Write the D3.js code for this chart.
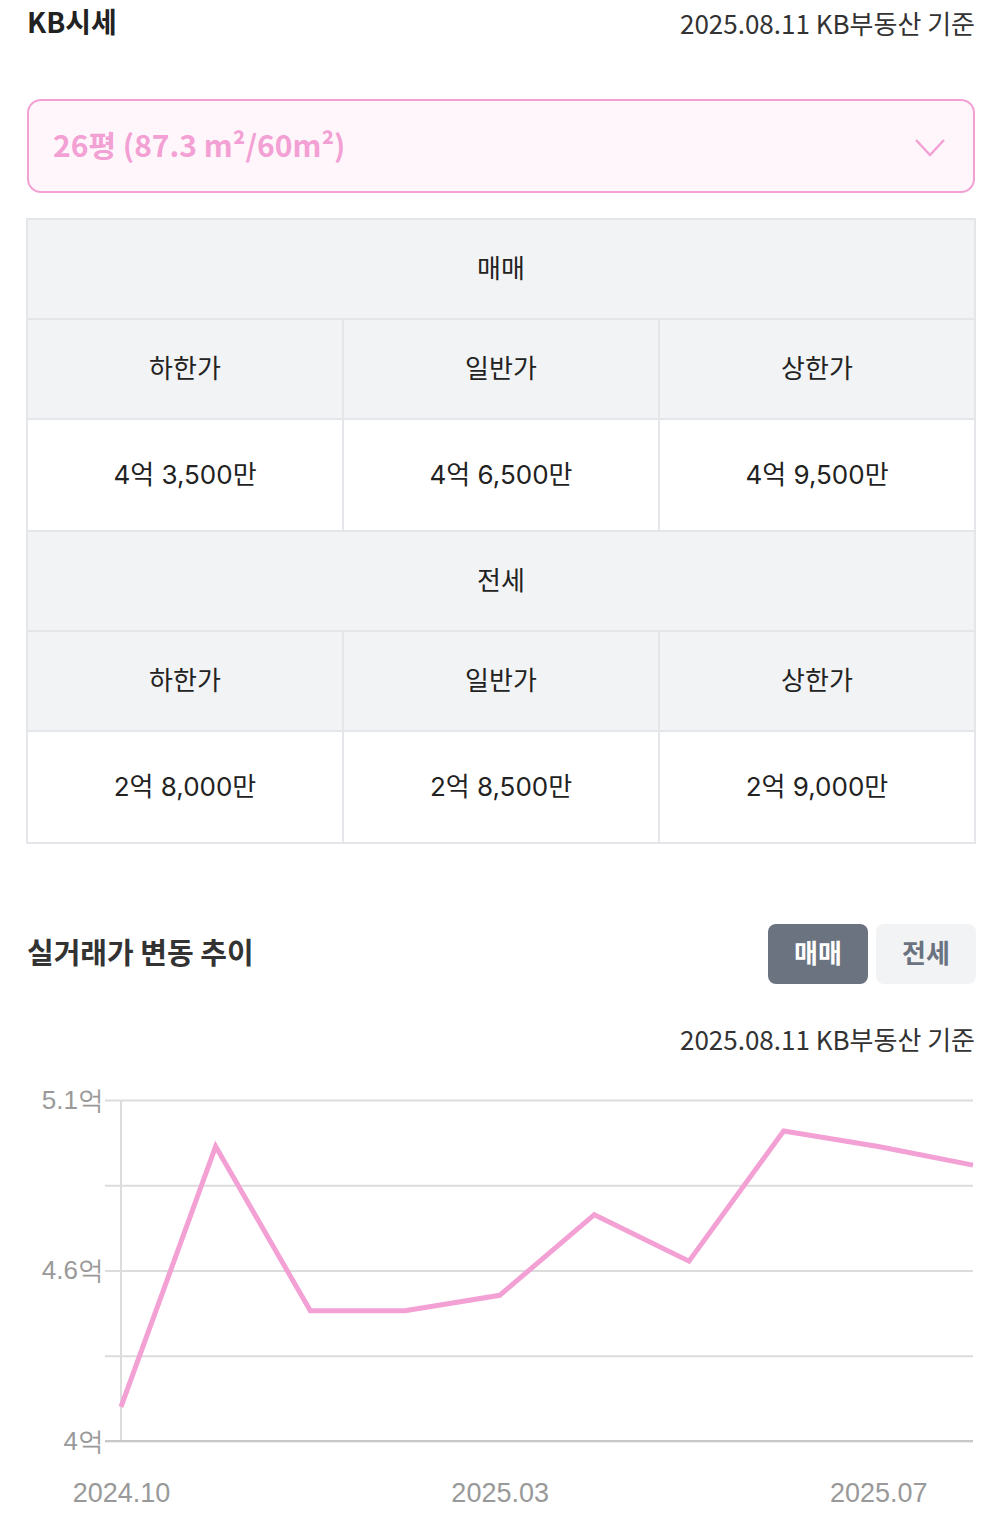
<!DOCTYPE html>
<html>
<head>
<meta charset="utf-8">
<script src="https://cdn.jsdelivr.net/npm/d3@7"></script>
<style>
  body { margin: 0; background: #fff; }
  svg { display: block; font-family: "Noto Sans CJK KR", "Noto Sans", sans-serif; }
</style>
</head>
<body>
<div class="container"></div>
<script>
const baseDate = '2025.08.11 KB부동산 기준';
const areaLabel = '26평 (87.3 m²/60m²)';
const priceCols = ['하한가', '일반가', '상한가'];
const saleValues = ['4억 3,500만', '4억 6,500만', '4억 9,500만'];
const rentValues = ['2억 8,000만', '2억 8,500만', '2억 9,000만'];
const months = ['2024.10', '2024.11', '2024.12', '2025.01', '2025.03', '2025.04', '2025.05', '2025.06', '2025.07', '2025.08'];
const prices = [4.11, 4.95, 4.42, 4.42, 4.47, 4.73, 4.58, 5.0, 4.95, 4.89];
const yTicks = [4, 4.275, 4.55, 4.825, 5.1];
const yTickLabels = ['4억', '', '4.6억', '', '5.1억'];
const xTickIdx = [0, 4, 8];

const w = 1000;
const h = 1520;
const pink = '#f3a0d4';

const svg = d3.select('.container').append('svg')
    .attr('width', w)
    .attr('height', h);

// header
svg.append('text')
    .attr('x', 27).attr('y', 33)
    .style('font-size', '28px').style('font-weight', 700)
    .attr('fill', '#222')
    .text('KB시세');

svg.append('text')
    .attr('x', 975).attr('y', 34)
    .attr('text-anchor', 'end')
    .style('font-size', '26px')
    .attr('fill', '#333')
    .text(baseDate);

// dropdown
svg.append('rect')
    .attr('x', 28).attr('y', 100)
    .attr('width', 946).attr('height', 92)
    .attr('rx', 13)
    .attr('fill', '#fff6fb')
    .attr('stroke', pink).attr('stroke-width', 2);

svg.append('text')
    .attr('x', 53).attr('y', 157)
    .style('font-size', '30px').style('font-weight', 700)
    .attr('fill', pink)
    .text(areaLabel);

svg.append('path')
    .attr('d', 'M916,140 L930,155 L944,140')
    .attr('fill', 'none')
    .attr('stroke', pink).attr('stroke-width', 2.5);

// price table
const table = svg.append('g');
const colX = d3.scaleBand().domain(d3.range(3)).range([27, 975]);
const sections = [
  {title: '매매', values: saleValues, top: 219},
  {title: '전세', values: rentValues, top: 531}
];

sections.forEach(s => {
  const rows = [
    {y: s.top, hgt: 100, bg: '#f2f3f5', cells: [s.title], full: true},
    {y: s.top + 100, hgt: 100, bg: '#f2f3f5', cells: priceCols},
    {y: s.top + 200, hgt: 112, bg: '#fff', cells: s.values, num: true}
  ];
  rows.forEach(r => {
    const cells = r.full ? [{x: 27, wd: 948, t: r.cells[0]}]
      : r.cells.map((t, i) => ({x: colX(i), wd: colX.bandwidth(), t: t}));
    const g = table.selectAll(null).data(cells).enter().append('g');
    g.append('rect')
        .attr('x', d => d.x).attr('y', r.y)
        .attr('width', d => d.wd).attr('height', r.hgt)
        .attr('fill', r.bg)
        .attr('stroke', '#e5e6ea').attr('stroke-width', 2);
    g.append('text')
        .attr('x', d => d.x + d.wd / 2)
        .attr('y', r.y + r.hgt / 2)
        .attr('dy', '0.35em')
        .attr('text-anchor', 'middle')
        .style('font-size', '26px')
        .style('font-family', r.num ? 'Inter, "Noto Sans CJK KR", sans-serif' : null)
        .attr('fill', '#222')
        .text(d => d.t);
  });
});

// section title + toggle
svg.append('text')
    .attr('x', 27).attr('y', 964)
    .style('font-size', '29px').style('font-weight', 700)
    .attr('fill', '#333')
    .text('실거래가 변동 추이');

const toggles = [
  {t: '매매', x: 768, bg: '#6b7280', fg: '#fff'},
  {t: '전세', x: 876, bg: '#f2f3f5', fg: '#6b7280'}
];
const tg = svg.selectAll('.toggle').data(toggles).enter().append('g').attr('class', 'toggle');
tg.append('rect')
    .attr('x', d => d.x).attr('y', 924)
    .attr('width', 100).attr('height', 60)
    .attr('rx', 8)
    .attr('fill', d => d.bg);
tg.append('text')
    .attr('x', d => d.x + 50).attr('y', 954)
    .attr('dy', '0.35em')
    .attr('text-anchor', 'middle')
    .style('font-size', '26px').style('font-weight', 700)
    .attr('fill', d => d.fg)
    .text(d => d.t);

svg.append('text')
    .attr('x', 975).attr('y', 1050)
    .attr('text-anchor', 'end')
    .style('font-size', '26px')
    .attr('fill', '#333')
    .text(baseDate);

// line chart
const plot = {left: 121, right: 973, top: 1100, bottom: 1441};
const x = d3.scalePoint().domain(months).range([plot.left, plot.right]);
const y = d3.scaleLinear().domain([4, 5.1]).range([plot.bottom, plot.top]);

const chart = svg.append('g')
    .style('font-family', '"Liberation Sans", "Noto Sans CJK KR", sans-serif');

const yAxis = d3.axisLeft(y)
    .tickValues(yTicks)
    .tickSize(-(plot.right - 105))
    .tickPadding(1)
    .tickFormat((d, i) => yTickLabels[i]);

chart.append('g')
    .attr('transform', 'translate(105,0)')
    .call(yAxis)
    .call(g => g.select('.domain').remove())
    .call(g => g.selectAll('.tick line').attr('stroke', '#dcdcdc').attr('stroke-width', 2))
    .call(g => g.selectAll('.tick text')
        .attr('fill', '#999').style('font-size', '26px'));

chart.append('line')
    .attr('x1', plot.left).attr('x2', plot.left)
    .attr('y1', plot.top).attr('y2', plot.bottom)
    .attr('stroke', '#dcdcdc').attr('stroke-width', 2);

chart.append('line')
    .attr('x1', 105).attr('x2', plot.right)
    .attr('y1', plot.bottom).attr('y2', plot.bottom)
    .attr('stroke', '#c8c8c8').attr('stroke-width', 2);

const xAxis = d3.axisBottom(x)
    .tickValues(xTickIdx.map(i => months[i]))
    .tickSize(0)
    .tickPadding(0);

chart.append('g')
    .attr('transform', `translate(0,${plot.bottom})`)
    .call(xAxis)
    .call(g => g.select('.domain').remove())
    .call(g => g.selectAll('.tick text')
        .attr('y', 52).attr('dy', '0.35em')
        .attr('fill', '#999').style('font-size', '27px'));

const line = d3.line()
    .x((d, i) => x(months[i]))
    .y(d => y(d));

chart.append('path')
    .datum(prices)
    .attr('d', line)
    .attr('fill', 'none')
    .attr('stroke', pink)
    .attr('stroke-width', 5)
    .attr('stroke-linejoin', 'miter');
</script>
</body>
</html>
